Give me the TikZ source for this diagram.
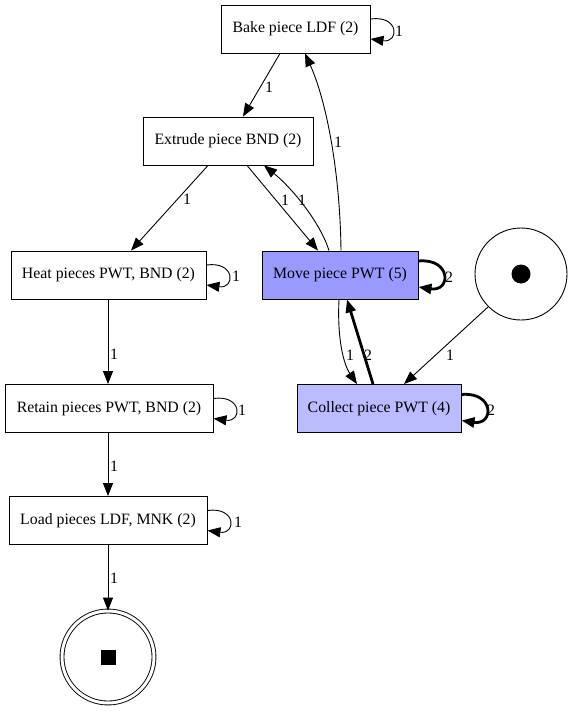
\documentclass[tikz,border=0pt]{standalone}
\usepackage{fontspec}
\setmainfont{Liberation Serif}
\usetikzlibrary{arrows.meta}

\definecolor{movefill}{RGB}{153,153,255}
\definecolor{collectfill}{RGB}{187,187,255}

\tikzset{
  trans/.style={draw, line width=0.9bp, inner sep=0pt, minimum height=48bp,
    font=\fontsize{15.8bp}{18bp}\selectfont},
  place/.style={draw, circle, line width=0.9bp, inner sep=0pt, minimum size=92bp},
  wlabel/.style={inner sep=1pt, font=\fontsize{15.8bp}{18bp}\selectfont},
  arc/.style={line width=0.9bp, -{Triangle[length=13bp,width=10bp]}},
  heavyarc/.style={line width=2.8bp, -{Triangle[length=13bp,width=10bp]}}
}

\begin{document}
\begin{tikzpicture}[x=1bp, y=-1bp]
  \useasboundingbox (0,0) rectangle (572,712);

  % transitions
  \node[trans, minimum width=149bp] (bake) at (295.5,29) {Bake piece LDF (2)};
  \node[trans, minimum width=170bp] (extrude) at (228,141) {Extrude piece BND (2)};
  \node[trans, minimum width=195bp] (heat) at (108.5,275) {Heat pieces PWT, BND (2)};
  \node[trans, minimum width=156bp, fill=movefill] (move) at (340,275) {Move piece PWT (5)};
  \node[trans, minimum width=208bp] (retain) at (109,408.5) {Retain pieces PWT, BND (2)};
  \node[trans, minimum width=164bp, fill=collectfill] (collect) at (379,408.5) {Collect piece PWT (4)};
  \node[trans, minimum width=198bp] (load) at (108,520.5) {Load pieces LDF, MNK (2)};

  % source and sink places
  \node[place] (start) at (521,274) {};
  \node[circle, fill, inner sep=0pt, minimum size=19bp] (startmark) at (start) {};
  \node[place, minimum size=92bp, double, double distance=3bp] (finish) at (108,657) {};
  \node[fill, inner sep=0pt, minimum size=15bp] (finishmark) at (finish) {};

  % arcs down the left column
  \draw[arc] ([xshift=-15.5bp]bake.south) -- ([xshift=15bp]extrude.north);
  \draw[arc] ([xshift=-20bp]extrude.south) -- ([xshift=22.5bp]heat.north);
  \draw[arc] ([xshift=-0.5bp]heat.south) -- ([xshift=-1bp]retain.north);
  \draw[arc] ([xshift=-1bp]retain.south) -- (load.north);
  \draw[arc] (load.south) -- (finish.north);

  % arcs around move
  \draw[arc] ([xshift=19bp]extrude.south) -- ([xshift=-22bp]move.north);
  \draw[arc] ([xshift=-11bp]move.north) .. controls (320,222) and (292,188) .. ([xshift=36bp]extrude.south);
  \draw[arc] ([xshift=1bp]move.north) .. controls (340,170) and (326,100) .. ([xshift=9.5bp]bake.south);
  \draw[arc] ([xshift=-1bp]move.south) .. controls (337,340) and (344,365) .. ([xshift=-22bp]collect.north);
  \draw[heavyarc] ([xshift=-6bp]collect.north) -- ([xshift=7bp]move.south);
  \draw[arc] (start.south west) -- ([xshift=25bp]collect.north);

  % self loops
  \draw[arc] ([yshift=10bp]bake.east) .. controls +(29,-4) and +(29,4) .. ([yshift=-10bp]bake.east);
  \draw[arc] ([yshift=10bp]heat.east) .. controls +(29,-4) and +(29,4) .. ([yshift=-10bp]heat.east);
  \draw[arc] ([yshift=10bp]retain.east) .. controls +(29,-4) and +(29,4) .. ([yshift=-10bp]retain.east);
  \draw[arc] ([yshift=10bp]load.east) .. controls +(29,-4) and +(29,4) .. ([yshift=-10bp]load.east);
  \draw[heavyarc] ([yshift=14bp]move.east) .. controls +(33,-3) and +(33,5) .. ([yshift=-12bp]move.east);
  \draw[heavyarc] ([yshift=14bp]collect.east) .. controls +(33,-3) and +(33,5) .. ([yshift=-12bp]collect.east);

  % arc weights
  \node[wlabel] (w1) at (269,87) {1};
  \node[wlabel] (w2) at (187,199) {1};
  \node[wlabel] (w3) at (285,200) {1};
  \node[wlabel] (w4) at (302,200) {1};
  \node[wlabel] (w5) at (338,142) {1};
  \node[wlabel] (w6) at (114,354) {1};
  \node[wlabel] (w7) at (114,466) {1};
  \node[wlabel] (w8) at (114,578) {1};
  \node[wlabel] (w9) at (350,355) {1};
  \node[wlabel] (w10) at (368,355) {2};
  \node[wlabel] (w11) at (450,355) {1};
  \node[wlabel] (w12) at (399,31) {1};
  \node[wlabel] (w13) at (236,276) {1};
  \node[wlabel] (w14) at (242,410) {1};
  \node[wlabel] (w15) at (238,522) {1};
  \node[wlabel] (w16) at (449,277) {2};
  \node[wlabel] (w17) at (491,410) {2};
\end{tikzpicture}
\end{document}
